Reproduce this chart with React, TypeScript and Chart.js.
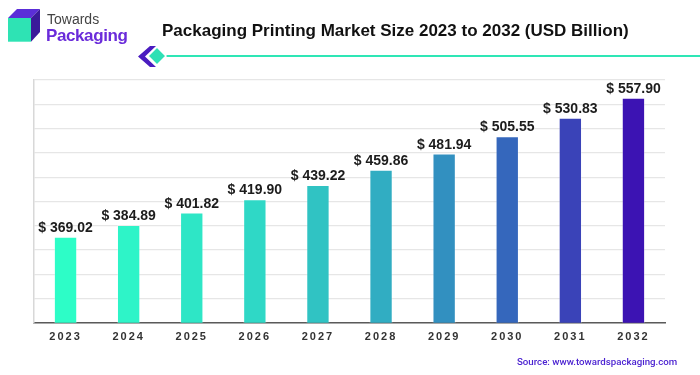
import React, { useEffect, useRef } from "react";
import { Chart, registerables } from "chart.js";

Chart.register(...registerables);

const years = ["2023", "2024", "2025", "2026", "2027", "2028", "2029", "2030", "2031", "2032"];
const values = [369.02, 384.89, 401.82, 419.9, 439.22, 459.86, 481.94, 505.55, 530.83, 557.9];
const barColors = [
  "#2DFDC7", "#2EF4C8", "#2EE6C6", "#2FD8C6", "#30C3C3",
  "#31ADC2", "#3290C0", "#3567BC", "#3A43B8", "#3C13B3",
];
const yMin = 252;
const yMax = 582;
const yStep = 33;

const valueLabels = {
  id: "valueLabels",
  afterDatasetsDraw(chart: any) {
    const ctx = chart.ctx;
    const meta = chart.getDatasetMeta(0);
    ctx.save();
    ctx.font = "bold 14px 'Liberation Sans', Arial, sans-serif";
    ctx.fillStyle = "#1c1c1c";
    ctx.textAlign = "center";
    ctx.textBaseline = "alphabetic";
    meta.data.forEach((el: any, i: number) => {
      ctx.fillText("$ " + values[i].toFixed(2), el.x, el.y - 5);
    });
    ctx.restore();
  },
};

const tickSpacing = {
  id: "tickSpacing",
  beforeDraw(chart: any) {
    chart.ctx.letterSpacing = "2px";
  },
  beforeDatasetsDraw(chart: any) {
    chart.ctx.letterSpacing = "0px";
  },
};

export default function App() {
  const ref = useRef<HTMLCanvasElement | null>(null);

  useEffect(() => {
    if (!ref.current) return;
    const chart = new Chart(ref.current, {
      type: "bar",
      data: {
        labels: years,
        datasets: [
          {
            data: values,
            backgroundColor: barColors,
            borderColor: "rgba(255,255,255,0.3)",
            borderWidth: 1,
            barPercentage: 0.37,
            categoryPercentage: 1,
          },
        ],
      },
      options: {
        responsive: false,
        animation: false,
        devicePixelRatio: 1,
        layout: { padding: { left: 34, right: 35, top: 80, bottom: 23 } },
        plugins: {
          legend: { display: false },
          tooltip: { enabled: false },
          title: { display: false },
        },
        scales: {
          x: {
            grid: { display: false, drawTicks: false },
            border: { display: true, color: "#5a5a5a", width: 1.5 },
            ticks: {
              color: "#333333",
              font: { family: "'Liberation Sans', Arial, sans-serif", size: 11, weight: "bold" },
              padding: 8,
            },
          },
          y: {
            min: yMin,
            max: yMax,
            ticks: { display: false, stepSize: yStep },
            grid: { color: "#e6e6e6", lineWidth: 1.2, drawTicks: false },
            border: { display: true, color: "#d8d8d8", width: 1.5 },
          },
        },
      },
      plugins: [tickSpacing, valueLabels],
    } as any);
    return () => chart.destroy();
  }, []);

  return (
    <div
      style={{
        position: "fixed",
        left: 0,
        top: 0,
        width: 700,
        height: 375,
        background: "#ffffff",
        overflow: "hidden",
        fontFamily: "'Liberation Sans', Arial, sans-serif",
      }}
    >
      <canvas ref={ref} width={700} height={375} style={{ position: "absolute", left: 0, top: 0 }} />
      <svg width={700} height={80} style={{ position: "absolute", left: 0, top: 0 }}>
        <polygon points="8,18 17,9 40,9 31,18" fill="#5B2ED8" />
        <polygon points="31,18 40,9 40,32 31,41.7" fill="#3A1A9A" />
        <rect x={8} y={18} width={23} height={23.7} fill="#2EE3B4" />
        <line x1={163} y1={56} x2={700} y2={56} stroke="#2EE6B5" strokeWidth={2} />
        <polygon points="150,46 138,56.5 150,67 156,67 145,56.5 156,46" fill="#4A1CC0" />
        <polygon points="157,47 166,56 157,65 148,56" fill="#2EE0B5" stroke="#ffffff" strokeWidth={1.5} />
      </svg>
      <div
        style={{
          position: "absolute",
          left: 47,
          top: 11,
          fontSize: 14,
          lineHeight: "16px",
          color: "#444444",
          whiteSpace: "nowrap",
        }}
      >
        Towards
      </div>
      <div
        style={{
          position: "absolute",
          left: 46,
          top: 26,
          fontSize: 17,
          lineHeight: "19px",
          fontWeight: "bold",
          letterSpacing: "-0.4px",
          color: "#6A2BDA",
          whiteSpace: "nowrap",
        }}
      >
        Packaging
      </div>
      <div
        style={{
          position: "absolute",
          left: 162,
          top: 21,
          fontSize: 17,
          lineHeight: "20px",
          fontWeight: "bold",
          color: "#111111",
          whiteSpace: "nowrap",
        }}
      >
        Packaging Printing Market Size 2023 to 2032 (USD Billion)
      </div>
      <div
        style={{
          position: "absolute",
          left: 517,
          top: 356,
          fontSize: 9.7,
          lineHeight: "12px",
          fontWeight: 500,
          fontFamily: "Roboto, 'Liberation Sans', Arial, sans-serif",
          color: "#4B22D1",
          whiteSpace: "nowrap",
        }}
      >
        Source: www.towardspackaging.com
      </div>
    </div>
  );
}
